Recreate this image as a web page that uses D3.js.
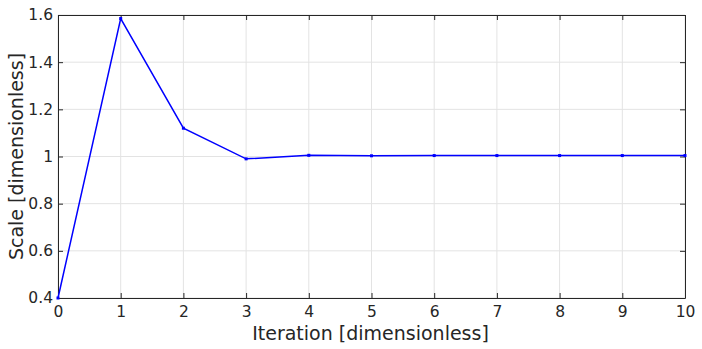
<!DOCTYPE html>
<html>
<head>
<meta charset="utf-8">
<script src="https://cdn.jsdelivr.net/npm/d3@7"></script>
<style>
  body { margin: 0; background: #fff; }
  svg { display: block; font-family: "DejaVu Sans", sans-serif; }
</style>
</head>
<body>
<svg id="chart" width="702" height="349"></svg>
<script>
var iterations = [0, 1, 2, 3, 4, 5, 6, 7, 8, 9, 10];
var scaleValues = [0.4, 1.585, 1.12, 0.99, 1.005, 1.003, 1.004, 1.004, 1.004, 1.004, 1.004];
var xTicks = [0, 1, 2, 3, 4, 5, 6, 7, 8, 9, 10];
var yTicks = [0.4, 0.6, 0.8, 1, 1.2, 1.4, 1.6];

var margin = { top: 15, right: 17, bottom: 51, left: 58 },
    width = 702 - margin.left - margin.right,
    height = 349 - margin.top - margin.bottom;

var svg = d3.select("#chart");
var g = svg.append("g").attr("transform", "translate(" + margin.left + "," + margin.top + ")");

var x = d3.scaleLinear().domain([0, 10]).range([0, width]);
var y = d3.scaleLinear().domain([0.4, 1.6]).range([height, 0]);

// grid
g.append("g").selectAll("line.gx")
    .data(xTicks).enter().append("line")
    .attr("x1", function (d) { return x(d); }).attr("x2", function (d) { return x(d); })
    .attr("y1", 0).attr("y2", height)
    .attr("stroke", "#e3e3e3").attr("stroke-width", 1);
g.append("g").selectAll("line.gy")
    .data(yTicks).enter().append("line")
    .attr("y1", function (d) { return y(d); }).attr("y2", function (d) { return y(d); })
    .attr("x1", 0).attr("x2", width)
    .attr("stroke", "#e3e3e3").attr("stroke-width", 1);

var fmt = function (d) { return d3.format("")(+d.toFixed(1)); };

var xAxis = g.append("g").attr("transform", "translate(0," + height + ")")
    .call(d3.axisBottom(x).tickValues(xTicks).tickSizeInner(-5).tickSizeOuter(0).tickPadding(8).tickFormat(fmt));
var yAxis = g.append("g")
    .call(d3.axisLeft(y).tickValues(yTicks).tickSizeInner(-5).tickSizeOuter(0).tickPadding(5).tickFormat(fmt));
var xTop = g.append("g")
    .call(d3.axisTop(x).tickValues(xTicks).tickSizeInner(-5).tickSizeOuter(0).tickFormat(""));
var yRight = g.append("g").attr("transform", "translate(" + width + ",0)")
    .call(d3.axisRight(y).tickValues(yTicks).tickSizeInner(-5).tickSizeOuter(0).tickFormat(""));

[xAxis, yAxis, xTop, yRight].forEach(function (a) {
    a.selectAll(".domain").attr("stroke", "#262626");
    a.selectAll(".tick line").attr("stroke", "#262626");
    a.selectAll("text").attr("fill", "#262626").style("font-size", "15.5px").style("font-family", "DejaVu Sans");
});

// line
var line = d3.line()
    .x(function (d, i) { return x(iterations[i]); })
    .y(function (d) { return y(d); });

g.append("path")
    .datum(scaleValues)
    .attr("fill", "none")
    .attr("stroke", "#0000ff")
    .attr("stroke-width", 1.5)
    .attr("d", line);

g.selectAll("rect.pt")
    .data(scaleValues).enter().append("rect")
    .attr("x", function (d, i) { return x(iterations[i]) - 1.5; })
    .attr("y", function (d) { return y(d) - 1.5; })
    .attr("width", 3).attr("height", 3)
    .attr("fill", "#0000ff");

// labels
svg.append("text")
    .attr("x", margin.left + width / 2 - 1).attr("y", 340)
    .attr("text-anchor", "middle")
    .attr("fill", "#262626")
    .style("font-size", "19px")
    .text("Iteration [dimensionless]");

svg.append("text")
    .attr("transform", "translate(23," + (margin.top + height / 2) + ") rotate(-90)")
    .attr("text-anchor", "middle")
    .attr("fill", "#262626")
    .style("font-size", "19px")
    .text("Scale [dimensionless]");
</script>
</body>
</html>
